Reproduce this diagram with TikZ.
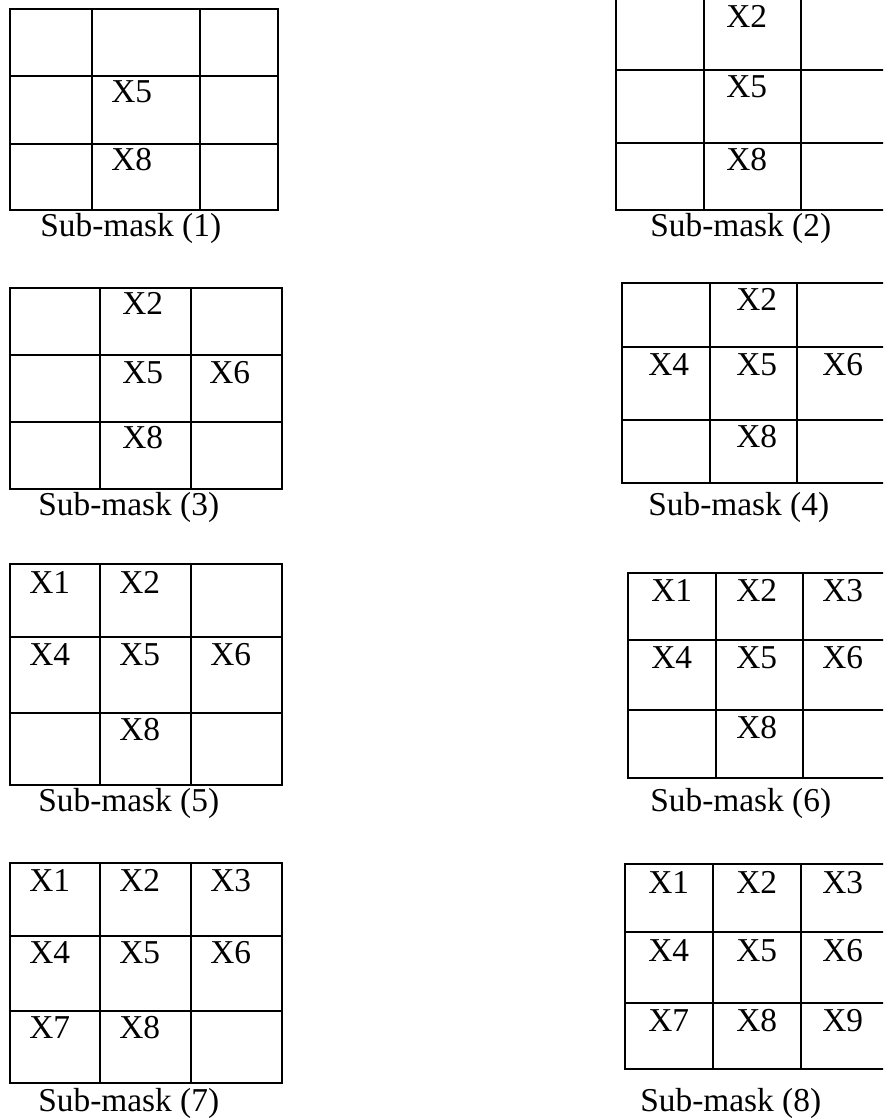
\documentclass[tikz,border=0pt]{standalone}
\usepackage{fontspec}
\setmainfont{Liberation Serif}
\usepackage{tikz}
\usetikzlibrary{positioning}
\tikzset{
  every node/.style={font=\fontsize{19}{22}\selectfont},
  gridline/.style={line width=1.4pt, draw=black},
  cellx/.style={anchor=base west, inner sep=0pt, text=black},
  caption/.style={anchor=base west, inner sep=0pt, text=black},
}
\begin{document}
\begin{tikzpicture}[x=0.02cm, y=-0.02cm]
  \useasboundingbox (0,0) rectangle (883,1118);
  \clip (0,0) rectangle (883,1118);
  % sub-mask (1)
  \draw[gridline] (10,9) rectangle (278,210) (92,9) -- (92,210) (200,9) -- (200,210) (10,76) -- (278,76) (10,144) -- (278,144);
  \node[cellx] (m1x5) at (111,103) {X5};
  \node[cellx] (m1x8) at (111,171) {X8};
  \node[caption] (m1cap) at (40,237) {Sub-mask (1)};
  % sub-mask (2)
  \draw[gridline] (616,-3) rectangle (892,210) (704,-3) -- (704,210) (801,-3) -- (801,210) (616,70) -- (892,70) (616,143) -- (892,143);
  \node[cellx] (m2x2) at (726,28) {X2};
  \node[cellx] (m2x5) at (726,98) {X5};
  \node[cellx] (m2x8) at (726,171) {X8};
  \node[caption] (m2cap) at (650,237) {Sub-mask (2)};
  % sub-mask (3)
  \draw[gridline] (10,288) rectangle (282,489) (100,288) -- (100,489) (191,288) -- (191,489) (10,355) -- (282,355) (10,422) -- (282,422);
  \node[cellx] (m3x2) at (122,315) {X2};
  \node[cellx] (m3x5) at (122,383) {X5};
  \node[cellx] (m3x6) at (209,383) {X6};
  \node[cellx] (m3x8) at (122,448) {X8};
  \node[caption] (m3cap) at (38,515) {Sub-mask (3)};
  % sub-mask (4)
  \draw[gridline] (622,283) rectangle (892,483) (710,283) -- (710,483) (797,283) -- (797,483) (622,347) -- (892,347) (622,420) -- (892,420);
  \node[cellx] (m4x2) at (736,311) {X2};
  \node[cellx] (m4x4) at (648,375) {X4};
  \node[cellx] (m4x5) at (736,375) {X5};
  \node[cellx] (m4x6) at (822,375) {X6};
  \node[cellx] (m4x8) at (736,447) {X8};
  \node[caption] (m4cap) at (648,515) {Sub-mask (4)};
  % sub-mask (5)
  \draw[gridline] (10,564) rectangle (282,785) (100,564) -- (100,785) (191,564) -- (191,785) (10,637) -- (282,637) (10,713) -- (282,713);
  \node[cellx] (m5x1) at (29,593) {X1};
  \node[cellx] (m5x2) at (119,593) {X2};
  \node[cellx] (m5x4) at (29,665) {X4};
  \node[cellx] (m5x5) at (119,665) {X5};
  \node[cellx] (m5x6) at (210,665) {X6};
  \node[cellx] (m5x8) at (119,740) {X8};
  \node[caption] (m5cap) at (38,811) {Sub-mask (5)};
  % sub-mask (6)
  \draw[gridline] (628,573) rectangle (892,778) (716,573) -- (716,778) (803,573) -- (803,778) (628,640) -- (892,640) (628,710) -- (892,710);
  \node[cellx] (m6x1) at (651,601) {X1};
  \node[cellx] (m6x2) at (736,601) {X2};
  \node[cellx] (m6x3) at (822,601) {X3};
  \node[cellx] (m6x4) at (651,668) {X4};
  \node[cellx] (m6x5) at (736,668) {X5};
  \node[cellx] (m6x6) at (822,668) {X6};
  \node[cellx] (m6x8) at (736,738) {X8};
  \node[caption] (m6cap) at (650,811) {Sub-mask (6)};
  % sub-mask (7)
  \draw[gridline] (10,863) rectangle (282,1083) (100,863) -- (100,1083) (191,863) -- (191,1083) (10,936) -- (282,936) (10,1011) -- (282,1011);
  \node[cellx] (m7x1) at (29,891) {X1};
  \node[cellx] (m7x2) at (119,891) {X2};
  \node[cellx] (m7x3) at (210,891) {X3};
  \node[cellx] (m7x4) at (29,963) {X4};
  \node[cellx] (m7x5) at (119,963) {X5};
  \node[cellx] (m7x6) at (210,963) {X6};
  \node[cellx] (m7x7) at (29,1038) {X7};
  \node[cellx] (m7x8) at (119,1038) {X8};
  \node[caption] (m7cap) at (38,1111) {Sub-mask (7)};
  % sub-mask (8)
  \draw[gridline] (625,864) rectangle (892,1069) (713,864) -- (713,1069) (801,864) -- (801,1069) (625,932) -- (892,932) (625,1003) -- (892,1003);
  \node[cellx] (m8x1) at (648,893) {X1};
  \node[cellx] (m8x2) at (736,893) {X2};
  \node[cellx] (m8x3) at (822,893) {X3};
  \node[cellx] (m8x4) at (648,961) {X4};
  \node[cellx] (m8x5) at (736,961) {X5};
  \node[cellx] (m8x6) at (822,961) {X6};
  \node[cellx] (m8x7) at (648,1031) {X7};
  \node[cellx] (m8x8) at (736,1031) {X8};
  \node[cellx] (m8x9) at (822,1031) {X9};
  \node[caption] (m8cap) at (640,1111) {Sub-mask (8)};
\end{tikzpicture}
\end{document}
